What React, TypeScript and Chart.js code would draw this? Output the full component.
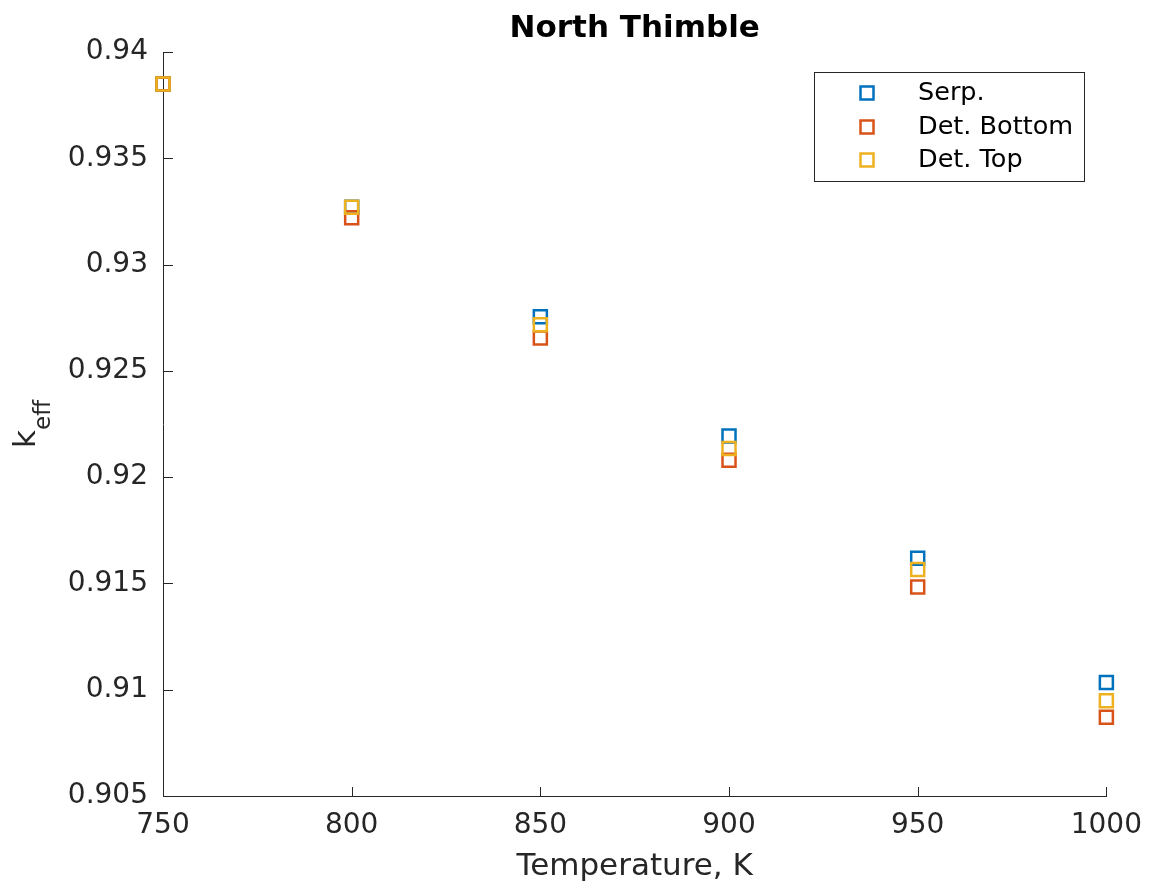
import React, { useEffect, useRef } from "react";
import { Chart, registerables } from "chart.js";

Chart.register(...registerables);

const temperatures = [750, 800, 850, 900, 950, 1000];
const serpValues = [0.9385, 0.9327, 0.92754, 0.92193, 0.91618, 0.91034];
const detBottomValues = [0.9385, 0.9322, 0.92655, 0.9208, 0.91483, 0.9087];
const detTopValues = [0.9385, 0.9327, 0.92717, 0.92135, 0.91566, 0.90948];
const seriesNames = ["Serp.", "Det. Bottom", "Det. Top"];
const seriesColors = ["#0072BD", "#D95319", "#EDB120"];
const titleText = "North Thimble";
const xLabel = "Temperature, K";
const yLabelMain = "k";
const yLabelSub = "eff";

const FONT = "'DejaVu Sans', sans-serif";
const AXIS_COLOR = "#262626";

const overlayPlugin = {
  id: "overlay",
  afterDraw(chart: any) {
    const ctx = chart.ctx;
    const area = chart.chartArea;
    const xs = chart.scales.x;
    const ys = chart.scales.y;
    ctx.save();
    // inward ticks
    ctx.strokeStyle = AXIS_COLOR;
    ctx.lineWidth = 1;
    ctx.beginPath();
    xs.ticks.forEach((t: any) => {
      const px = Math.round(xs.getPixelForValue(t.value)) + 0.5;
      ctx.moveTo(px, area.bottom);
      ctx.lineTo(px, area.bottom - 9);
    });
    ys.ticks.forEach((t: any) => {
      const py = Math.round(ys.getPixelForValue(t.value)) + 0.5;
      ctx.moveTo(area.left, py);
      ctx.lineTo(area.left + 10, py);
    });
    ctx.stroke();

    // title
    ctx.fillStyle = "#000000";
    ctx.font = `bold 31px ${FONT}`;
    ctx.textAlign = "center";
    ctx.textBaseline = "alphabetic";
    ctx.fillText(titleText, (area.left + area.right) / 2, 37);

    // x label
    ctx.fillStyle = AXIS_COLOR;
    ctx.font = `31px ${FONT}`;
    ctx.fillText(xLabel, (area.left + area.right) / 2, 875);

    // y label with subscript
    ctx.save();
    ctx.translate(35, (area.top + area.bottom) / 2);
    ctx.rotate(-Math.PI / 2);
    ctx.font = `31px ${FONT}`;
    const kW = ctx.measureText(yLabelMain).width;
    ctx.font = `23px ${FONT}`;
    const subW = ctx.measureText(yLabelSub).width;
    const total = kW + subW;
    ctx.textAlign = "left";
    ctx.font = `31px ${FONT}`;
    ctx.fillText(yLabelMain, -total / 2, 0);
    ctx.font = `23px ${FONT}`;
    ctx.fillText(yLabelSub, -total / 2 + kW, 15);
    ctx.restore();

    // legend
    const bx = 814.5, by = 72.5, bw = 270, bh = 109;
    ctx.fillStyle = "#ffffff";
    ctx.fillRect(bx, by, bw, bh);
    ctx.strokeStyle = AXIS_COLOR;
    ctx.lineWidth = 1;
    ctx.strokeRect(bx, by, bw, bh);
    const rows = [93, 127, 160];
    seriesNames.forEach((name, i) => {
      ctx.strokeStyle = seriesColors[i];
      ctx.lineWidth = 2.5;
      ctx.strokeRect(867 - 6.5, rows[i] - 6.5, 13, 13);
      ctx.fillStyle = "#000000";
      ctx.font = `25.5px ${FONT}`;
      ctx.textAlign = "left";
      ctx.textBaseline = "middle";
      ctx.fillText(name, 918, rows[i]);
    });
    ctx.restore();
  },
};

export default function App() {
  const canvasRef = useRef<HTMLCanvasElement | null>(null);

  useEffect(() => {
    const canvas = canvasRef.current;
    if (!canvas) return;
    const mk = (vals: number[], i: number, order: number) => ({
      label: seriesNames[i],
      data: temperatures.map((t, k) => ({ x: t, y: vals[k] })),
      borderColor: seriesColors[i],
      backgroundColor: "rgba(0,0,0,0)",
      pointStyle: "rect",
      pointRadius: 9.2,
      pointBorderWidth: 2.5,
      showLine: false,
      clip: false,
      order,
    });
    const chart = new Chart(canvas, {
      type: "scatter",
      data: {
        datasets: [
          mk(serpValues, 0, 2),
          mk(detBottomValues, 1, 1),
          mk(detTopValues, 2, 0),
        ] as any,
      },
      options: {
        animation: false,
        responsive: false,
        events: [],
        layout: { padding: { top: 52, right: 48, left: 0, bottom: 0 } },
        plugins: {
          legend: { display: false },
          title: { display: false },
          tooltip: { enabled: false },
        },
        scales: {
          x: {
            type: "linear",
            min: 750,
            max: 1000,
            grid: { display: false, drawTicks: false },
            border: { display: true, color: AXIS_COLOR, width: 1 },
            ticks: {
              stepSize: 50,
              color: AXIS_COLOR,
              padding: 13,
              font: { family: FONT, size: 28 },
              maxRotation: 0,
              callback: (v: any) => String(v),
            },
            afterFit: (s: any) => {
              s.height = 92;
            },
          },
          y: {
            type: "linear",
            min: 0.905,
            max: 0.94,
            grid: { display: false, drawTicks: false },
            border: { display: true, color: AXIS_COLOR, width: 1 },
            ticks: {
              stepSize: 0.005,
              color: AXIS_COLOR,
              padding: 15,
              font: { family: FONT, size: 28 },
              callback: (v: any) => String(Number(Number(v).toFixed(3))),
            },
            afterFit: (s: any) => {
              s.width = 163;
            },
          },
        },
      } as any,
      plugins: [overlayPlugin],
    });
    return () => chart.destroy();
  }, []);

  return (
    <div style={{ position: "fixed", left: 0, top: 0, width: 1155, height: 888, background: "#ffffff" }}>
      <canvas ref={canvasRef} width={1155} height={888} style={{ width: 1155, height: 888 }} />
    </div>
  );
}
